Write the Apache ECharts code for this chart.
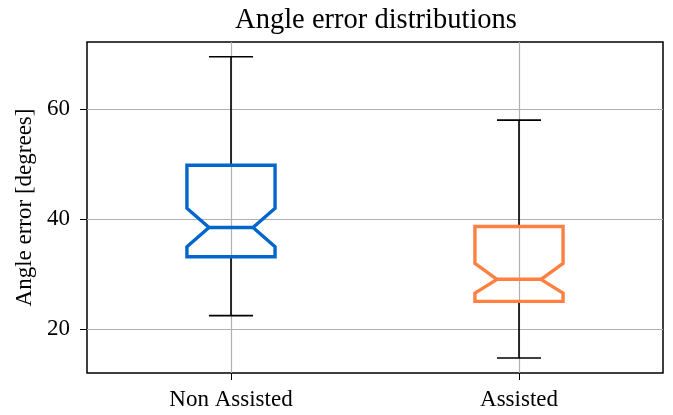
<!DOCTYPE html>
<html>
<head>
<meta charset="utf-8">
<script src="https://cdn.jsdelivr.net/npm/echarts@6/dist/echarts.min.js"></script>
<style>
  html, body { margin: 0; padding: 0; background: #fff; }
  #chart { width: 673px; height: 415px; }
</style>
</head>
<body>
<div id="chart"></div>
<script>
// Groups shown along the x axis
const categories = ['Non Assisted', 'Assisted'];

// Five-number summaries per group (degrees)
const whiskerLow  = [22.5, 14.8];
const quartile1   = [33.2, 25.1];
const medians     = [38.5, 29.1];
const quartile3   = [49.8, 38.7];
const whiskerHigh = [69.5, 58.0];

// Notch bounds (confidence interval around the median)
const notchLow  = [35.0, 26.6];
const notchHigh = [42.0, 32.0];

// Box outline colours
const boxColors = ['#0066cc', '#ff8040'];

// Y axis ticks
const yTicks = [20, 40, 60];

const boxData = categories.map((c, i) => [
  i, whiskerLow[i], quartile1[i], notchLow[i], medians[i], notchHigh[i], quartile3[i], whiskerHigh[i]
]);

const serif = '"Liberation Serif", "DejaVu Serif", serif';

function renderNotchedBox(params, api) {
  const idx = api.value(0);
  const band = api.size([1, 0])[0];
  const half = band * 0.153;
  const inner = half / 2;
  const cx = api.coord([idx, 0])[0];
  const y = v => api.coord([idx, v])[1];
  const yMin = y(api.value(1)), yQ1 = y(api.value(2)), yNL = y(api.value(3));
  const yMed = y(api.value(4)), yNH = y(api.value(5)), yQ3 = y(api.value(6)), yMax = y(api.value(7));
  const color = boxColors[idx];
  const whiskerStyle = { stroke: '#000', lineWidth: 1.6 };
  const L = cx - half, R = cx + half;
  return {
    type: 'group',
    children: [
      { type: 'line', shape: { x1: cx, y1: yQ1, x2: cx, y2: yMin }, style: whiskerStyle },
      { type: 'line', shape: { x1: cx, y1: yQ3, x2: cx, y2: yMax }, style: whiskerStyle },
      { type: 'line', shape: { x1: cx - inner, y1: yMin, x2: cx + inner, y2: yMin }, style: whiskerStyle },
      { type: 'line', shape: { x1: cx - inner, y1: yMax, x2: cx + inner, y2: yMax }, style: whiskerStyle },
      {
        type: 'polygon',
        shape: {
          points: [
            [L, yQ3], [R, yQ3], [R, yNH], [cx + inner, yMed], [R, yNL], [R, yQ1],
            [L, yQ1], [L, yNL], [cx - inner, yMed], [L, yNH]
          ]
        },
        style: { fill: 'none', stroke: color, lineWidth: 3.4, lineJoin: 'miter' }
      },
      { type: 'line', shape: { x1: cx - inner, y1: yMed, x2: cx + inner, y2: yMed },
        style: { stroke: color, lineWidth: 3.4 } }
    ]
  };
}

const chart = echarts.init(document.getElementById('chart'), null, { renderer: 'canvas' });
chart.setOption({
  animation: false,
  backgroundColor: '#fff',
  title: {
    text: 'Angle error distributions',
    left: 371, top: 1, textAlign: 'center',
    textStyle: { fontFamily: serif, fontSize: 28.5, fontWeight: 'normal', color: '#000' }
  },
  grid: {
    left: 87, right: 10, top: 42, bottom: 42,
    show: true, borderColor: '#000', borderWidth: 1.5, backgroundColor: 'transparent'
  },
  xAxis: {
    type: 'category',
    data: categories,
    boundaryGap: true,
    axisLine: { show: false },
    axisTick: { show: true, alignWithLabel: true, length: 7, lineStyle: { color: '#000', width: 1 } },
    axisLabel: { fontFamily: serif, fontSize: 23, color: '#000', margin: 15 },
    splitLine: { show: true, alignWithLabel: true, lineStyle: { color: '#b0b0b0', width: 1.2 } }
  },
  yAxis: {
    type: 'value',
    min: 12.09, max: 72.19,
    name: 'Angle error [degrees]',
    nameLocation: 'middle',
    nameGap: 50,
    nameTextStyle: { fontFamily: serif, fontSize: 23, color: '#000' },
    axisLine: { show: false },
    axisTick: { show: true, length: 7, lineStyle: { color: '#000', width: 1 }, customValues: yTicks },
    axisLabel: { fontFamily: serif, fontSize: 23, color: '#000', margin: 17, customValues: yTicks,
      showMinLabel: true, showMaxLabel: true },
    splitLine: { show: true, lineStyle: { color: '#b0b0b0', width: 1.2 } }
  },
  series: [{
    type: 'custom',
    renderItem: renderNotchedBox,
    data: boxData,
    encode: { x: 0, y: [1, 7] },
    clip: false
  }]
});
</script>
</body>
</html>
